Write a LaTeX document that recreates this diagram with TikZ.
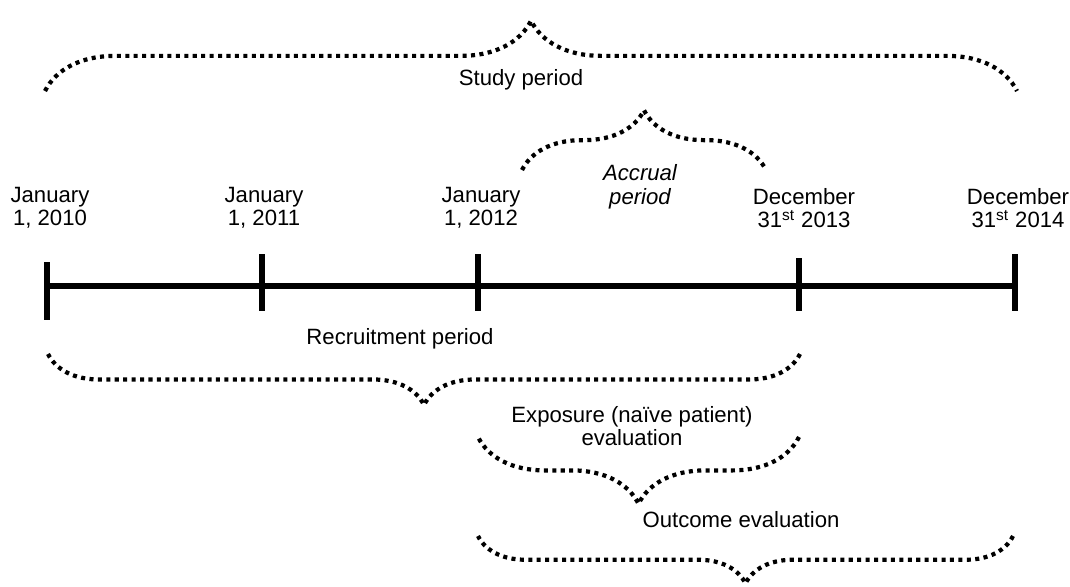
\documentclass[tikz,border=0pt]{standalone}
\usepackage{fontspec}
\setmainfont{Liberation Sans}
\usetikzlibrary{decorations.pathreplacing,positioning}

\begin{document}
\begin{tikzpicture}[x=0.02cm,y=-0.02cm]
\tikzstyle{every node}+=[inner sep=0pt,align=center,font=\fontsize{12.6}{13.4}\selectfont]
\tikzstyle{axis}=[line width=3pt,black]
\tikzstyle{dotbrace}=[decorate,line width=2.4pt,dash pattern=on 2.3pt off 2.5pt,black]
\useasboundingbox (0,0) rectangle (1070,586);
% time axis
\coordinate (t0) at (47,286);
\coordinate (t1) at (262,286);
\coordinate (t2) at (478,286);
\coordinate (t3) at (799,286);
\coordinate (t4) at (1015,286);
\draw[axis] (t0) -- (t4);
\draw[axis] (t0) ++(0,-24) -- ++(0,58);
\draw[axis] (t1) ++(0,-32) -- ++(0,57);
\draw[axis] (t2) ++(0,-32) -- ++(0,57);
\draw[axis] (t3) ++(0,-28) -- ++(0,53);
\draw[axis] (t4) ++(0,-32) -- ++(0,57);
% dates
\node (d0) at (50,208) {January\\1, 2010};
\node (d1) at (264,208) {January\\1, 2011};
\node (d2) at (481,208) {January\\1, 2012};
\node (d3) at (804,208) {December\\31\textsuperscript{st} 2013};
\node (d4) at (1018,208) {December\\31\textsuperscript{st} 2014};
% study period
\coordinate (s0) at (45,91);
\coordinate (s1) at (1017,91);
\draw[dotbrace,decoration={brace,amplitude=40pt}] (s0) -- (s1);
\node (study) at (521,80) {Study period};
% accrual period
\coordinate (a0) at (522,170);
\coordinate (a1) at (766,170);
\draw[dotbrace,decoration={brace,amplitude=34pt}] (a0) -- (a1);
\node (accrual) at (640,187) {\itshape Accrual\\\itshape period};
% recruitment period
\node (recruit) at (400,339) {Recruitment period};
\coordinate (r0) at (48,354);
\coordinate (r1) at (800,354);
\draw[dotbrace,decoration={brace,amplitude=29pt}] (r1) -- (r0);
% exposure evaluation
\node (expo) at (632,426) {Exposure (naïve patient)\\evaluation};
\coordinate (e0) at (478,437);
\coordinate (e1) at (799,437);
\draw[dotbrace,decoration={brace,amplitude=38pt}] (e1) -- (e0);
% outcome evaluation
\node (outcome) at (741,520) {Outcome evaluation};
\coordinate (o0) at (478,536);
\coordinate (o1) at (1013,536);
\draw[dotbrace,decoration={brace,amplitude=27pt}] (o1) -- (o0);
\end{tikzpicture}
\end{document}
